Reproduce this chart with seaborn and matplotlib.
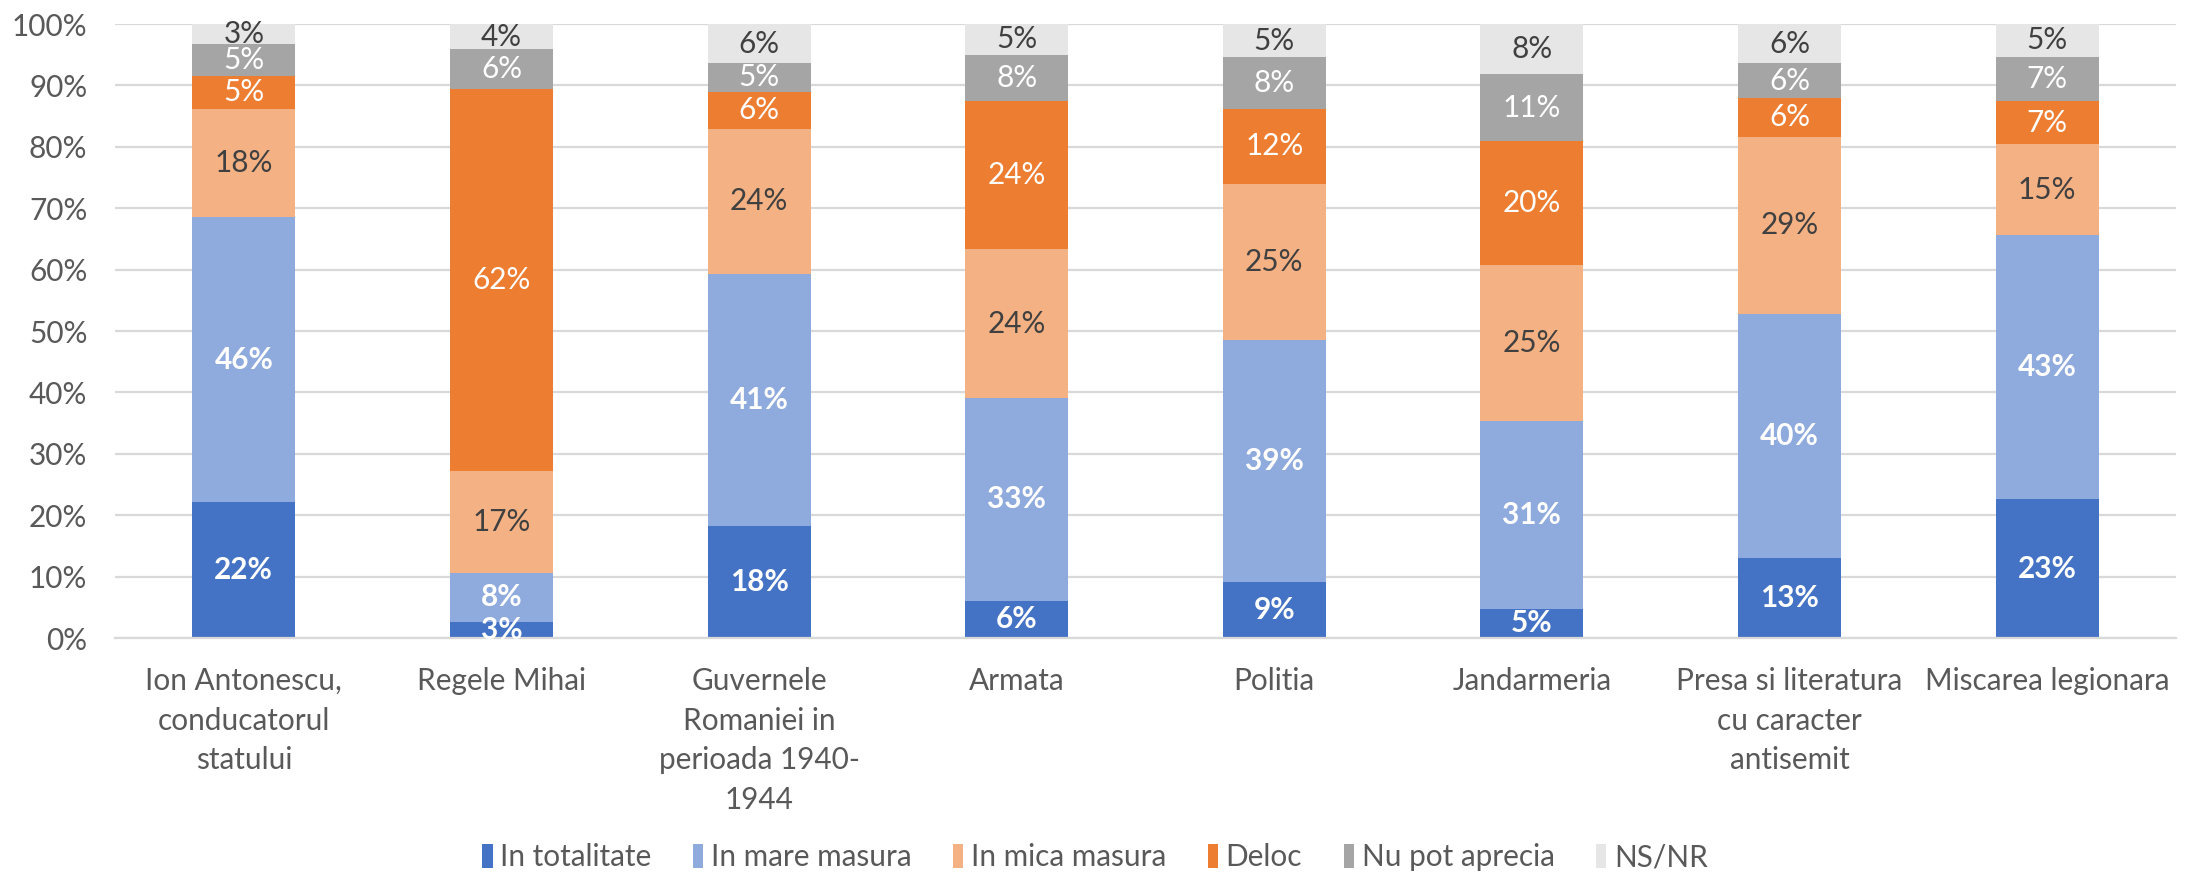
import numpy as np
import pandas as pd
import matplotlib
matplotlib.use('Agg')
import matplotlib.pyplot as plt
import seaborn as sns
from matplotlib.patches import Patch

# date - procente pe categorii
categories = ['Ion Antonescu,\nconducatorul\nstatului', 'Regele Mihai',
              'Guvernele\nRomaniei in\nperioada 1940-\n1944', 'Armata', 'Politia',
              'Jandarmeria', 'Presa si literatura\ncu caracter\nantisemit',
              'Miscarea legionara']
series_names = ['In totalitate', 'In mare masura', 'In mica masura', 'Deloc',
                'Nu pot aprecia', 'NS/NR']

in_totalitate = [22.1, 2.6, 18.3, 6.1, 9.2, 4.8, 13.0, 22.6]
in_mare_masura = [46.4, 8.0, 41.0, 33.0, 39.4, 30.6, 39.8, 43.0]
in_mica_masura = [17.7, 16.6, 23.6, 24.2, 25.4, 25.4, 28.8, 14.8]
deloc = [5.4, 62.3, 6.1, 24.1, 12.2, 20.2, 6.4, 7.1]
nu_pot_aprecia = [5.1, 6.4, 4.6, 7.6, 8.4, 10.8, 5.6, 7.2]
ns_nr = [3.3, 4.1, 6.4, 5.0, 5.4, 8.2, 6.4, 5.3]

colors = ['#4472C4', '#8FAADC', '#F4B183', '#ED7D31', '#A5A5A5', '#E7E6E6']
label_colors = ['white', 'white', '#404040', 'white', 'white', '#404040']
label_weights = ['bold', 'bold', 'normal', 'normal', 'normal', 'normal']

sns.set_style('white')
plt.rcParams['font.family'] = ['Lato', 'DejaVu Sans']
FS = 10.7

df = pd.DataFrame({'Categorie': categories,
                   series_names[0]: in_totalitate,
                   series_names[1]: in_mare_masura,
                   series_names[2]: in_mica_masura,
                   series_names[3]: deloc,
                   series_names[4]: nu_pot_aprecia,
                   series_names[5]: ns_nr})

vals = df[series_names].to_numpy().T
cum = np.cumsum(vals, axis=0)

fig, ax = plt.subplots(figsize=(10.95, 4.37), dpi=200)
fig.subplots_adjust(left=0.0525, right=0.9936, bottom=0.27, top=0.9725)

# bare stivuite: desenam sumele cumulate de sus in jos
for i in reversed(range(len(series_names))):
    sns.barplot(x=df['Categorie'], y=cum[i], color=colors[i], width=0.4,
                saturation=1, linewidth=0, order=categories, ax=ax)

# etichete procente
for i in range(len(series_names)):
    for j in range(len(categories)):
        y = cum[i][j] - vals[i][j] / 2
        ax.text(j, y, f'{vals[i][j]:.0f}%', ha='center', va='center',
                color=label_colors[i], fontweight=label_weights[i], fontsize=FS)

ax.set_ylim(0, 100)
ax.set_yticks(range(0, 101, 10))
ax.set_yticklabels([f'{v}%' for v in range(0, 101, 10)])
ax.set_xlabel('')
ax.set_ylabel('')
ax.yaxis.grid(True, color='#D9D9D9', linewidth=0.8)
ax.set_axisbelow(True)
for s in ['top', 'right', 'left']:
    ax.spines[s].set_visible(False)
ax.spines['bottom'].set_color('#D9D9D9')
ax.spines['bottom'].set_linewidth(0.8)
ax.tick_params(axis='y', length=0, pad=10, labelsize=FS, labelcolor='#595959')
ax.tick_params(axis='x', length=0, pad=10.5, labelsize=FS, labelcolor='#595959')
for t in ax.get_xticklabels():
    t.set_linespacing(1.5)

handles = [Patch(facecolor=c, edgecolor='none') for c in colors]
fig.legend(handles, series_names, loc='center', bbox_to_anchor=(0.5, 0.019),
           ncol=6, frameon=False, fontsize=FS, labelcolor='#595959',
           handlelength=0.35, handleheight=0.9, handletextpad=0.25,
           columnspacing=1.4)

plt.savefig('out.png', dpi=200)
